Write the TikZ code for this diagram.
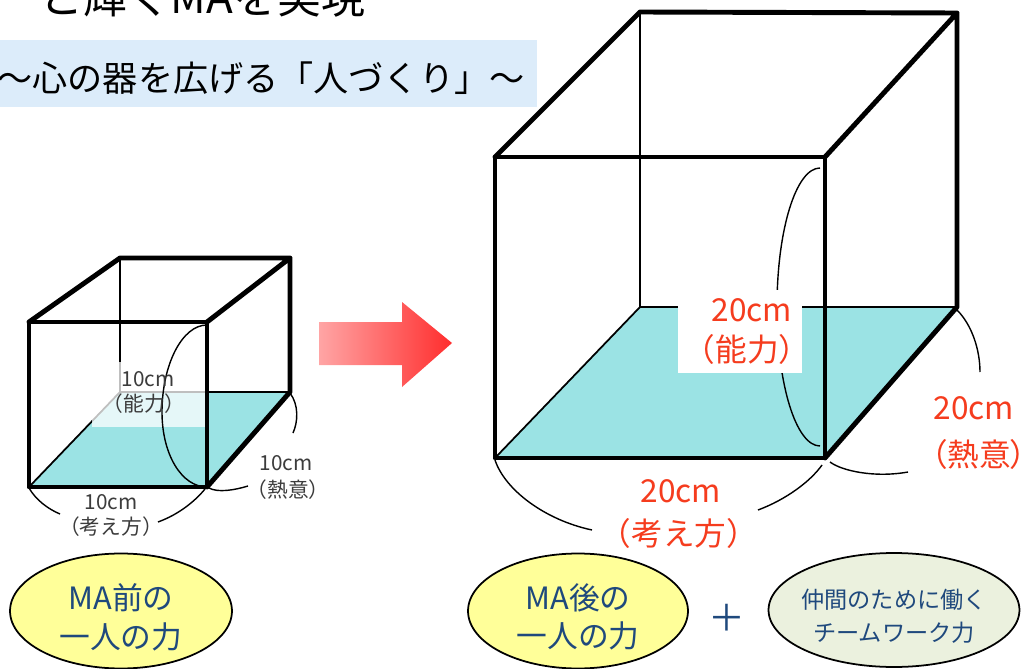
\documentclass[tikz,border=0pt]{standalone}
\usepackage{fontspec}
\setmainfont{Noto Sans CJK JP}
\usetikzlibrary{shapes.geometric}

\definecolor{bandblue}{RGB}{220,236,250}
\definecolor{floorcyan}{RGB}{155,227,228}
\definecolor{labelgray}{RGB}{60,60,60}
\definecolor{labelred}{RGB}{245,60,30}
\definecolor{bubbleblue}{RGB}{31,73,125}
\definecolor{bubbleyellow}{RGB}{255,255,153}
\definecolor{bubblegreen}{RGB}{235,241,222}
\definecolor{arrowlight}{RGB}{255,165,165}
\definecolor{arrowdark}{RGB}{255,45,45}

\tikzset{
  cubeline/.style={line width=2.8pt, line cap=round, line join=round},
  thinedge/.style={line width=1pt},
  dimarc/.style={line width=0.8pt},
  smalltext/.style={text=labelgray, inner sep=0pt, font=\fontsize{11.8}{14}\selectfont},
  bigtext/.style={text=labelred, inner sep=0pt, font=\fontsize{18}{21}\selectfont},
  bubble/.style={ellipse, draw=black, line width=1pt, inner sep=0pt},
  bubbletext/.style={text=bubbleblue, align=center, inner sep=0pt},
}

\begin{document}
\begin{tikzpicture}[x=0.02cm, y=-0.02cm]
	\useasboundingbox (0,0) rectangle (1029,669);
	\clip (0,0) rectangle (1029,669);

	% heading
	\node[anchor=base west, font=\fontsize{25}{30}\selectfont] (title) at (33,14) {と輝くMAを実現};
	\fill[bandblue] (0,40) rectangle (537,107);
	\node[inner sep=0pt, font=\fontsize{20}{24}\selectfont] (motto) at (261,78) {〜心の器を広げる「人づくり」〜};

	% small cube
	\coordinate (s1) at (29,487);
	\coordinate (s2) at (207,487);
	\coordinate (s3) at (207,322);
	\coordinate (s4) at (29,322);
	\coordinate (s5) at (120,392);
	\coordinate (s6) at (290,392);
	\coordinate (s7) at (290,258);
	\coordinate (s8) at (120,258);
	\fill[floorcyan] (s1) -- (s2) -- (s6) -- (s5) -- cycle;
	\draw[thinedge] (s8) -- (s5) -- (s6) (s5) -- (s1);
	\fill[white, opacity=0.75] (92,362) rectangle (205,427);
	\draw[dimarc] (207,325) .. controls (182,325) and (162,365) .. (162,412) .. controls (162,455) and (182,487) .. (207,487);
	\draw[dimarc] (290,393) .. controls (299,405) and (298,422) .. (293,433);
	\draw[dimarc] (209,488) .. controls (218,493) and (235,490) .. (248,486);
	\draw[dimarc] (29,488) .. controls (36,500) and (48,509) .. (60,514);
	\draw[dimarc] (158,522) .. controls (180,514) and (196,500) .. (205,489);
	\draw[cubeline] (s4) rectangle (s2);
	\draw[cubeline] (s4) -- (s8) -- (s7) -- (s3) (s7) -- (s6) -- (s2);
	\node[smalltext] (sh1) at (148,379) {10cm};
	\node[smalltext] (sh2) at (144,404) {（能力）};
	\node[smalltext] (sd1) at (286,463) {10cm};
	\node[smalltext] (sd2) at (288,490) {（熱意）};
	\node[smalltext] (sw1) at (111,502) {10cm};
	\node[smalltext] (sw2) at (111,527) {（考え方）};

	% growth arrow
	\shade[left color=arrowlight, right color=arrowdark] (319,322) -- (402,322) -- (402,302) -- (452,343) -- (402,387) -- (402,365) -- (319,365) -- cycle;

	% big cube
	\coordinate (b1) at (495,458);
	\coordinate (b2) at (825,458);
	\coordinate (b3) at (825,157);
	\coordinate (b4) at (495,157);
	\coordinate (b5) at (640,307);
	\coordinate (b6) at (957,307);
	\coordinate (b7) at (957,13);
	\coordinate (b8) at (640,12);
	\fill[floorcyan] (b1) -- (b2) -- (b6) -- (b5) -- cycle;
	\draw[thinedge] (b8) -- (b5) -- (b6) (b5) -- (b1);
	\draw[dimarc] (820,168) .. controls (796,168) and (777,230) .. (777,307) .. controls (777,384) and (796,446) .. (820,446);
	\fill[white] (678,290) rectangle (802,373);
	\draw[dimarc] (957,310) .. controls (972,325) and (980,350) .. (980,372);
	\draw[dimarc] (830,462) .. controls (842,471) and (875,478) .. (908,472);
	\draw[dimarc] (495,460) .. controls (505,490) and (545,520) .. (592,530);
	\draw[dimarc] (758,510) .. controls (785,500) and (810,482) .. (822,465);
	\draw[cubeline] (b4) rectangle (b2);
	\draw[cubeline] (b4) -- (b8) -- (b7) -- (b3) (b7) -- (b6) -- (b2);
	\node[bigtext] (bh1) at (752,310) {20cm};
	\node[bigtext] (bh2) at (747,349) {（能力）};
	\node[bigtext] (bd1) at (974,408) {20cm};
	\node[bigtext] (bd2) at (979,454) {\addfontfeature{RawFeature=+palt}（熱意）};
	\node[bigtext] (bw1) at (681,491) {20cm};
	\node[bigtext] (bw2) at (679,533) {（考え方）};

	% bubbles
	\node[bubble, fill=bubbleyellow, minimum width=4.44cm, minimum height=2.3cm] (before) at (121,611) {};
	\node[bubbletext, font=\fontsize{17.5}{22}\selectfont] (beforetext) at (121,617) {MA前の\\一人の力};
	\node[bubble, fill=bubbleyellow, minimum width=4.4cm, minimum height=2.3cm] (after) at (578,611) {};
	\node[bubbletext, font=\fontsize{17.5}{22}\selectfont] (aftertext) at (578,617) {MA後の\\一人の力};
	\node[text=bubbleblue, inner sep=0pt, font=\fontsize{21}{24}\selectfont] (plus) at (727,618) {＋};
	\node[bubble, fill=bubblegreen, minimum width=5.02cm, minimum height=2.28cm] (team) at (894,610) {};
	\node[bubbletext, font=\fontsize{13.2}{18.7}\selectfont] (teamtext) at (894,616) {仲間のために働く\\チームワーク力};
\end{tikzpicture}
\end{document}
